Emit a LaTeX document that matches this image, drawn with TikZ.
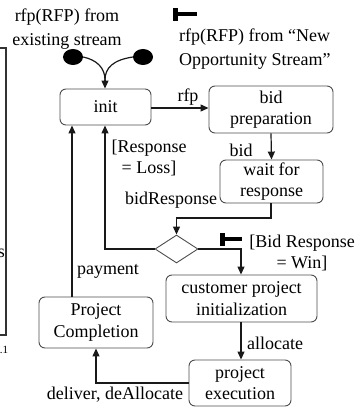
\documentclass[tikz,border=0pt]{standalone}
\usepackage{fontspec}
\setmainfont{Liberation Serif}
\usetikzlibrary{arrows.meta,shapes.geometric,calc}

\begin{document}
\begin{tikzpicture}[x=1pt,y=-1pt,
  txt/.style={font=\fontsize{18}{21.5}\selectfont},
  state/.style={txt,draw=black!70,line width=0.9pt,rounded corners=6pt,
    inner sep=0pt,align=center},
  lbl/.style={txt,inner sep=0pt,align=center},
  conn/.style={line width=1.2pt,black!90},
  arr/.style={conn,-{Triangle[length=8pt,width=7pt]}},
  dotmark/.style={ellipse,fill=black,minimum width=20pt,minimum height=16pt,inner sep=0pt},
  choice/.style={diamond,draw=black!70,line width=0.9pt,inner sep=0pt,
    minimum width=43pt,minimum height=28pt},
  frag/.style={line width=1.1pt,black!80}
]
\useasboundingbox (0,0) rectangle (358,414);

% part of the neighbouring frame on the left
\draw[frag] (0,48) -- (6,48) -- (6,335) -- (0,335);
\node[txt,inner sep=0pt] (fs) at (1.5,253) {s};
\node[inner sep=0pt,font=\fontsize{11}{13}\selectfont] (fn) at (4,350) {.1};

% states
\node[state,minimum width=91pt,minimum height=36pt] (init) at (105.5,107) {init};
\node[state,minimum width=124pt,minimum height=47pt] (prep) at (271,109.5) {bid\\preparation};
\node[state,minimum width=103pt,minimum height=43pt] (wait) at (271.5,181.5) {wait for\\response};
\node[choice] (dec) at (176.5,249) {};
\node[state,minimum width=151pt,minimum height=47pt] (cpi) at (241.5,298.5) {customer project\\initialization};
\node[state,minimum width=102pt,minimum height=46pt] (exec) at (240,383) {project\\execution};
\node[state,minimum width=114pt,minimum height=51pt] (compl) at (96,322.5) {Project\\Completion};

% entry points
\node[dotmark] (ldot) at (73,57) {};
\node[dotmark] (rdot) at (143,57) {};
\node[lbl,txt,font=\fontsize{18}{24}\selectfont] (exist) at (67,29) {rfp(RFP) from\\existing stream};
\node[lbl,align=left,font=\fontsize{18}{24}\selectfont,anchor=west] (newopp) at (179,49)
  {rfp(RFP) from “New\\Opportunity Stream”};

% bar markers
\fill[black] (173,8) rectangle (177.5,21);
\fill[black] (173,12.5) rectangle (197,16);
\fill[black] (220,233) rectangle (224.5,246);
\fill[black] (220,237) rectangle (242,240.5);

% connectors
\coordinate (join) at (105,80);
\draw[conn] (ldot.east) .. controls (97,60) and (105,68) .. (join);
\draw[conn] (rdot.west) .. controls (113,60) and (105,68) .. (join);
\draw[arr] (join) -- (init.north -| join);

\draw[arr] (init.east |- 0,108) -- (prep.west |- 0,108);
\draw[arr] (prep.south) -- (wait.north);
\coordinate (wd) at (271,218);
\draw[arr] (wait.south -| wd) -- (wd) -| (dec.north);
\coordinate (loss) at (105,0);
\draw[arr] (dec.west) -| (init.south -| loss);
\coordinate (win) at (241,0);
\draw[arr] (dec.east) -| (cpi.north -| win);
\draw[arr] (cpi.south -| win) -- (exec.north -| win);
\draw[arr] (exec.west) -| (compl.south);
\coordinate (pay) at (72,0);
\draw[arr] (compl.north -| pay) -- (init.south -| pay);

% transition labels
\node[lbl] (lrfp) at (188,97) {rfp};
\node[lbl] (lbid) at (241,150) {bid};
\node[lbl] (lresp) at (171,200) {bidResponse};
\node[lbl] (lloss) at (149,158) {[Response\\= Loss]};
\node[lbl] (lwin) at (302,253) {[Bid Response\\= Win]};
\node[lbl] (lalloc) at (275,343) {allocate};
\node[lbl] (lpay) at (108,271) {payment};
\node[lbl] (ldeliv) at (115,395) {deliver, deAllocate};
\end{tikzpicture}
\end{document}
